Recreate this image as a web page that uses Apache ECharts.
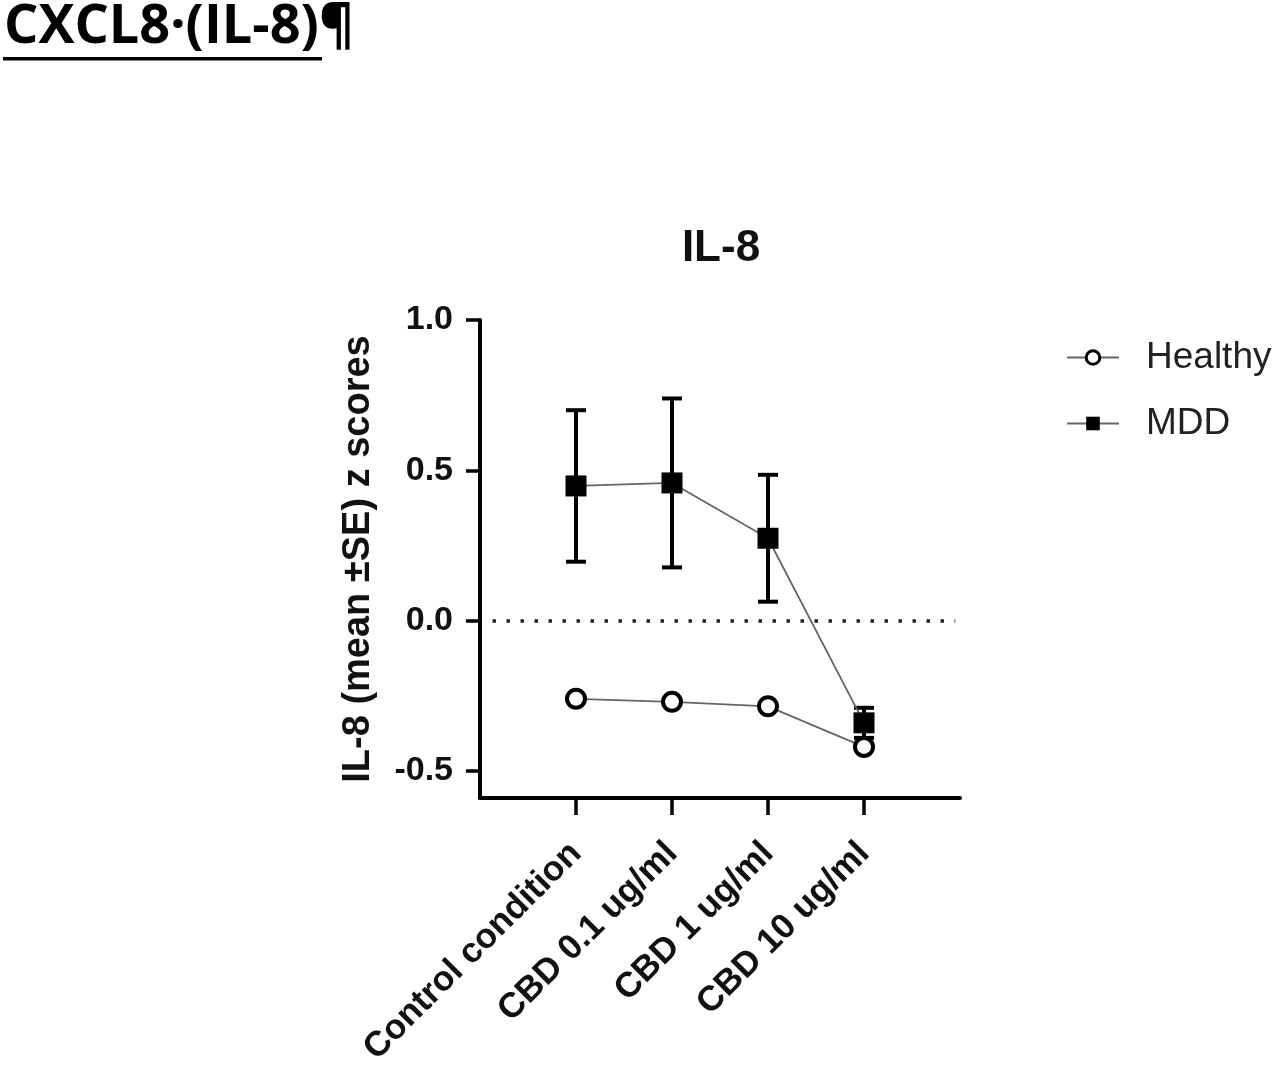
<!DOCTYPE html>
<html>
<head>
<meta charset="utf-8">
<script src="https://cdn.jsdelivr.net/npm/echarts@6/dist/echarts.min.js"></script>
<style>
  html, body { margin: 0; padding: 0; background: #fff; }
  #chartBox { width: 1280px; height: 1065px; }
</style>
</head>
<body>
<div id="chartBox"></div>
<script>
// conditions on the x axis
var categories = ['Control condition', 'CBD 0.1 ug/ml', 'CBD 1 ug/ml', 'CBD 10 ug/ml'];
// z score means
var healthy = [-0.26, -0.27, -0.285, -0.42];
var mdd = [0.448, 0.458, 0.274, -0.34];
var mddSE = [0.252, 0.281, 0.211, 0.05];
var yTicks = [-0.5, 0, 0.5, 1.0];
var xTicks = [1, 2, 3, 4];

var font = 'Liberation Sans, Arial, sans-serif';

function pairs(arr) {
    return arr.map(function (v, i) { return [i + 1, v]; });
}

var errData = mdd.map(function (v, i) { return [i + 1, v - mddSE[i], v + mddSE[i]]; });

var myChart = echarts.init(document.getElementById('chartBox'));
var option = {
    backgroundColor: '#fff',
    animation: false,
    title: {
        text: 'IL-8',
        left: 716,
        top: 222,
        textAlign: 'center',
        textStyle: { fontFamily: font, fontSize: 44, fontWeight: 'bold', color: '#111' }
    },
    graphic: [
        {
            type: 'text',
            left: 4,
            top: 1,
            style: {
                text: 'CXCL8·(IL-8)¶',
                fontFamily: 'Open Sans, sans-serif',
                fontSize: 54,
                fontWeight: 'bold',
                fill: '#000'
            }
        },
        {
            type: 'rect',
            left: 3,
            top: 57,
            shape: { width: 319, height: 3.5 },
            style: { fill: '#000' }
        }
    ],
    legend: {
        orient: 'vertical',
        left: 1061,
        top: 334,
        itemWidth: 52,
        itemHeight: 17,
        itemGap: 29,
        data: ['Healthy', 'MDD'],
        itemStyle: { borderWidth: 3 },
        textStyle: { fontFamily: font, fontSize: 37, color: '#222', padding: [0, 0, 0, 22] }
    },
    grid: { left: 480, right: 320, top: 320, bottom: 267, outerBoundsMode: 'none' },
    xAxis: {
        type: 'value',
        min: 0,
        max: 5,
        splitLine: { show: false },
        axisLine: { onZero: false, lineStyle: { color: '#000', width: 4 } },
        axisTick: { customValues: xTicks, length: 17, lineStyle: { color: '#000', width: 3.5 } },
        axisLabel: {
            customValues: xTicks,
            rotate: 45,
            margin: 50,
            fontFamily: font,
            fontSize: 35,
            fontWeight: 'bold',
            color: '#111',
            formatter: function (v) { return categories[v - 1]; }
        }
    },
    yAxis: {
        type: 'value',
        min: -0.59,
        max: 1.0,
        name: 'IL-8 (mean ±SE) z scores',
        nameLocation: 'middle',
        nameGap: 102,
        nameTextStyle: { fontFamily: font, fontSize: 38, fontWeight: 'bold', color: '#111' },
        splitLine: { show: false },
        axisLine: { show: true, onZero: false, lineStyle: { color: '#000', width: 4 } },
        axisTick: { customValues: yTicks, length: 14, lineStyle: { color: '#000', width: 3.5 } },
        axisLabel: {
            customValues: yTicks,
            margin: 27,
            fontFamily: font,
            fontSize: 34,
            fontWeight: 'bold',
            color: '#111',
            formatter: function (v) { return v.toFixed(1); }
        }
    },
    series: [
        {
            name: 'MDD SE',
            type: 'custom',
            z: 2,
            data: errData,
            renderItem: function (params, api) {
                var x = api.value(0);
                var lo = api.coord([x, api.value(1)]);
                var hi = api.coord([x, api.value(2)]);
                var half = 10;
                var st = { stroke: '#000', lineWidth: 4 };
                return {
                    type: 'group',
                    children: [
                        { type: 'line', shape: { x1: lo[0], y1: lo[1], x2: hi[0], y2: hi[1] }, style: st },
                        { type: 'line', shape: { x1: lo[0] - half, y1: lo[1], x2: lo[0] + half, y2: lo[1] }, style: st },
                        { type: 'line', shape: { x1: hi[0] - half, y1: hi[1], x2: hi[0] + half, y2: hi[1] }, style: st }
                    ]
                };
            }
        },
        {
            name: 'MDD',
            type: 'line',
            z: 3,
            data: pairs(mdd),
            symbol: 'rect',
            symbolSize: 21,
            itemStyle: { color: '#000' },
            lineStyle: { color: '#666', width: 1.8 },
            markLine: {
                silent: true,
                symbol: 'none',
                label: { show: false },
                lineStyle: { color: '#222', width: 3.5, type: [3.5, 10.5] },
                data: [[{ coord: [0.13, 0] }, { coord: [4.95, 0] }]]
            }
        },
        {
            name: 'Healthy',
            type: 'line',
            z: 4,
            data: pairs(healthy),
            symbol: 'circle',
            symbolSize: 18,
            itemStyle: { color: '#fff', borderColor: '#000', borderWidth: 4 },
            lineStyle: { color: '#666', width: 1.8 }
        }
    ]
};
myChart.setOption(option);
</script>
</body>
</html>
